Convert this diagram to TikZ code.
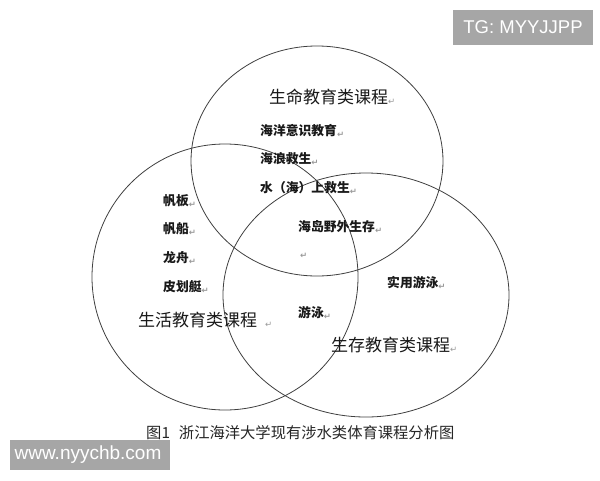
\documentclass[tikz,border=0pt]{standalone}
\usepackage{fontspec}
\setmainfont{Liberation Sans}
\newfontfamily\cjk{Noto Sans CJK SC}
\newfontfamily\symfont{DejaVu Sans}
\newcommand{\retmark}{{\symfont\fontsize{8.5}{8.5}\selectfont\textcolor{black!40}{\raisebox{-1.5pt}{↵}}}}

\begin{document}
\begin{tikzpicture}[x=1pt, y=-1pt,
    ring/.style={draw=black!75, line width=0.8pt},
    title/.style={anchor=west, inner sep=0pt, text=black!90, font=\cjk\fontsize{17}{17}\selectfont},
    item/.style={anchor=west, inner sep=0pt, text=black!90, font=\cjk\bfseries\fontsize{12.8}{13}\selectfont},
    wmbox/.style={fill=black!35, draw=none}]
  \fill[white] (0,0) rectangle (600,480);
  \useasboundingbox (0,0) rectangle (600,480);

  % three course circles
  \draw[ring] (317,161) ellipse [x radius=126pt, y radius=115pt];
  \draw[ring] (225,277) ellipse [x radius=133pt, y radius=133pt];
  \draw[ring] (366,295) ellipse [x radius=143pt, y radius=122pt];

  \node[title] (life) at (269,97) {生命教育类课程\retmark};
  \node[item] (ocean) at (260,131) {海洋意识教育\retmark};
  \node[item] (wave) at (260,159) {海浪救生\retmark};
  \node[item] (rescue) at (260,188) {水（海）上救生\retmark};
  \node[item] (island) at (298,227) {海岛野外生存\retmark};
  \node[item] (blank) at (300,256) {\retmark};

  \node[item] (board) at (163,201) {帆板\retmark};
  \node[item] (sail) at (163,229) {帆船\retmark};
  \node[item] (dragon) at (163,258) {龙舟\retmark};
  \node[item] (kayak) at (163,287) {皮划艇\retmark};
  \node[title] (living) at (138,320) {生活教育类课程\hspace{8pt}\retmark};

  \node[item] (swim) at (298,313) {游泳\retmark};
  \node[item] (useful) at (387,283) {实用游泳\retmark};
  \node[title] (survive) at (331,345) {生存教育类课程\retmark};

  \node[anchor=west, inner sep=0pt, text=black!85, font=\cjk\fontsize{15.3}{16}\selectfont]
    (caption) at (146,433) {图1\hspace{9pt}浙江海洋大学现有涉水类体育课程分析图};

  % watermarks
  \fill[wmbox] (453,10) rectangle (593,45);
  \node[text=white, font=\fontsize{18.5}{19}\selectfont] (tg) at (523,27.5) {TG: MYYJJPP};
  \fill[wmbox] (10,440) rectangle (170,470);
  \node[text=white, font=\fontsize{19}{19}\selectfont] (site) at (88,455) {www.nyychb.com};
\end{tikzpicture}
\end{document}
